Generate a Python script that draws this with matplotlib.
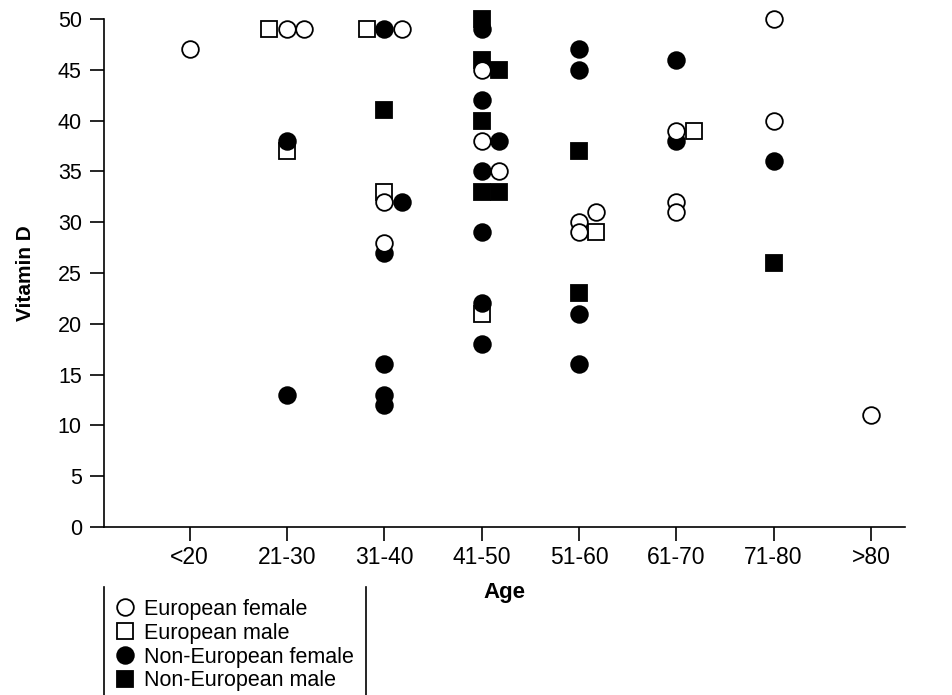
import matplotlib
matplotlib.use("Agg")
import matplotlib.pyplot as plt
from matplotlib.lines import Line2D

plt.rcParams["font.family"] = ["Liberation Sans", "DejaVu Sans"]

age_groups = ["<20", "21-30", "31-40", "41-50", "51-60", "61-70", "71-80", ">80"]

# each series: age group index, vitamin D value, side-by-side slot for tied values
eu_female_group = [0, 1, 1, 2, 2, 2, 3, 3, 3, 4, 4, 4, 5, 5, 5, 6, 6, 7]
eu_female_value = [47, 49, 49, 49, 32, 28, 45, 38, 35, 30, 29, 31, 39, 32, 31, 50, 40, 11]
eu_female_slot = [0, 0, 1, 1, 0, 0, 0, 0, 1, 0, 0, 1, 0, 0, 0, 0, 0, 0]

eu_male_group = [1, 1, 2, 2, 3, 4, 5]
eu_male_value = [49, 37, 49, 33, 21, 29, 39]
eu_male_slot = [-1, 0, -1, 0, 0, 1, 1]

neu_female_group = [1, 1, 2, 2, 2, 2, 2, 2, 3, 3, 3, 3, 3, 3, 3, 4, 4, 4, 4, 5, 5, 6]
neu_female_value = [38, 13, 49, 32, 27, 16, 13, 12, 49, 42, 38, 35, 29, 22, 18, 47, 45, 21, 16, 46, 38, 36]
neu_female_slot = [0, 0, 0, 1, 0, 0, 0, 0, 0, 0, 1, 0, 0, 0, 0, 0, 0, 0, 0, 0, 0, 0]

neu_male_group = [2, 3, 3, 3, 3, 3, 3, 4, 4, 6]
neu_male_value = [41, 50, 46, 45, 40, 33, 33, 37, 23, 26]
neu_male_slot = [0, 0, 0, 1, 0, 0, 1, 0, 0, 0]


def xpos(groups, slots, step=0.18):
    return [g + s * step for g, s in zip(groups, slots)]


def main():
    fig = plt.figure(figsize=(9.53, 6.95), dpi=100)
    ax = fig.add_axes([104 / 953, 168 / 695, 801 / 953, 508 / 695])

    ms = 12
    common = dict(ms=ms, mec="black", mew=1.3, ls="none", clip_on=False)
    ax.plot(xpos(eu_male_group, eu_male_slot), eu_male_value, "s",
            mfc="white", zorder=3, **common)
    ax.plot(xpos(neu_male_group, neu_male_slot), neu_male_value, "s",
            mfc="black", zorder=4, **common)
    ax.plot(xpos(neu_female_group, neu_female_slot), neu_female_value, "o",
            mfc="black", zorder=5, **common)
    ax.plot(xpos(eu_female_group, eu_female_slot), eu_female_value, "o",
            mfc="white", zorder=6, **common)

    ax.set_ylim(0, 50)
    ax.set_xlim(-0.88, 7.35)
    ax.set_yticks(range(0, 51, 5))
    ax.set_xticks(range(len(age_groups)))
    ax.set_xticklabels(age_groups)
    ax.spines["top"].set_visible(False)
    ax.spines["right"].set_visible(False)
    ax.spines["left"].set_linewidth(1.2)
    ax.spines["bottom"].set_linewidth(1.2)
    ax.tick_params(axis="y", labelsize=15.5, length=10, width=1.2, pad=6)
    ax.tick_params(axis="x", labelsize=16.5, length=10, width=1.2, pad=4)
    ax.set_xlabel("Age", fontsize=16, fontweight="bold", labelpad=9)
    ax.set_ylabel("Vitamin D", fontsize=15, fontweight="bold", labelpad=16)

    handles = [
        Line2D([], [], marker="o", ls="none", ms=ms, mfc="white", mec="black", mew=1.3),
        Line2D([], [], marker="s", ls="none", ms=ms, mfc="white", mec="black", mew=1.3),
        Line2D([], [], marker="o", ls="none", ms=ms, mfc="black", mec="black", mew=1.3),
        Line2D([], [], marker="s", ls="none", ms=ms, mfc="black", mec="black", mew=1.3),
    ]
    labels = ["European female", "European male", "Non-European female", "Non-European male"]
    fig.legend(handles, labels, loc="upper left", bbox_to_anchor=(115 / 953, 1 - 599 / 695),
               frameon=False, fontsize=15.5, handlelength=0.9, handletextpad=0.45,
               labelspacing=0.13, borderpad=0, borderaxespad=0)
    fig.add_artist(Line2D([104 / 953, 104 / 953], [0, 1 - 587 / 695], color="black", lw=1.2))
    fig.add_artist(Line2D([366 / 953, 366 / 953], [0, 1 - 587 / 695], color="black", lw=1.2))

    fig.savefig("out.png", dpi=100)


if __name__ == "__main__":
    main()
